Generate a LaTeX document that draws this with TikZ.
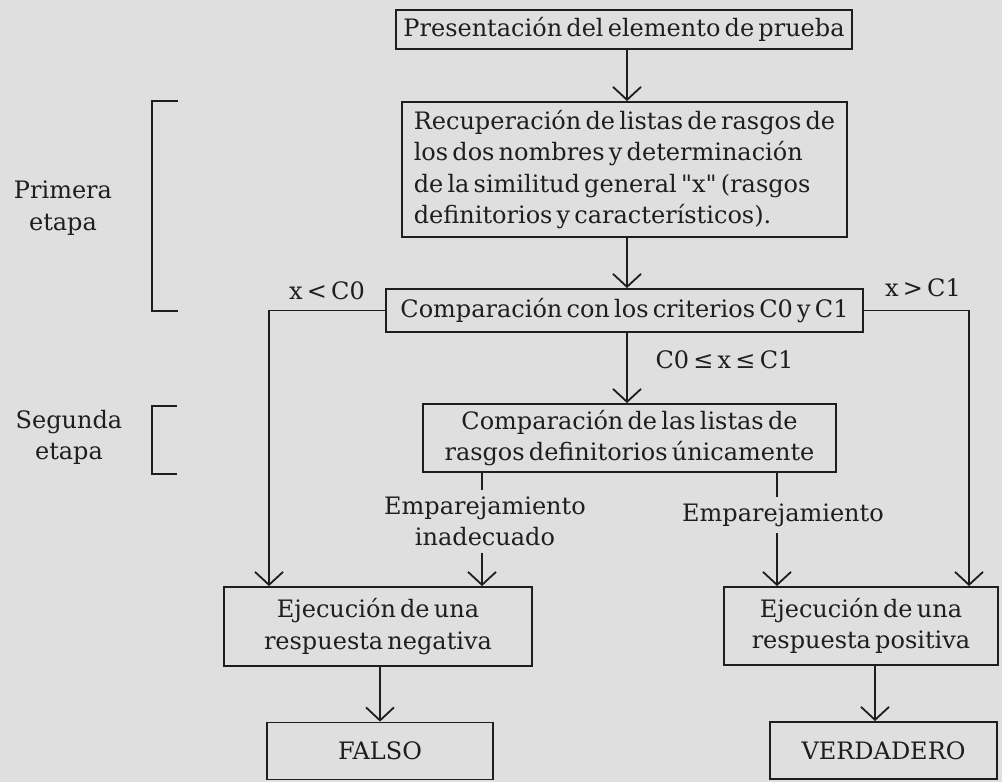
\documentclass[tikz,border=0pt]{standalone}
\usepackage{fontspec}
\setmainfont{DejaVu Serif}[WordSpace=0.55]
\usetikzlibrary{arrows.meta}
\definecolor{paper}{RGB}{223,223,223}
\definecolor{ink}{RGB}{30,30,30}
\begin{document}
\begin{tikzpicture}[x=1pt,y=-1pt,
  font=\fontsize{24}{31.5}\selectfont,
  box/.style={draw=ink, line width=1.8pt, inner sep=0pt, text=ink},
  lbl/.style={inner sep=0pt, text=ink},
  ln/.style={draw=ink, line width=1.8pt},
  arr/.style={ln, -{Straight Barb[length=13pt,width=28pt]}},
]
% page
\fill[paper] (0,0) rectangle (1002,782);
\useasboundingbox (0,0) rectangle (1002,782);

% process boxes
\node[box, minimum width=456pt, minimum height=39pt] (p1) at (624,29.5)
  {Presentación del elemento de prueba};
\node[box, minimum width=445pt, minimum height=135pt, align=left] (p2) at (624.5,169.5)
  {Recuperación de listas de rasgos de\\
   los dos nombres y determinación\\
   de la similitud general \textquotedbl x\textquotedbl{} (rasgos\\
   definitorios y característicos).};
\node[box, minimum width=477pt, minimum height=43pt] (p3) at (624.5,310.5)
  {Comparación con los criterios C0 y C1};
\node[box, minimum width=413pt, minimum height=68pt, align=center] (p4) at (629.5,438)
  {Comparación de las listas de\\ rasgos definitorios únicamente};
\node[box, minimum width=308pt, minimum height=79pt, align=center] (neg) at (378,626.5)
  {Ejecución de una\\ respuesta negativa};
\node[box, minimum width=274pt, minimum height=78pt, align=center] (pos) at (861,626)
  {Ejecución de una\\ respuesta positiva};
\node[box, minimum width=226pt, minimum height=57pt] (falso) at (380,751)
  {FALSO};
\node[box, minimum width=227pt, minimum height=57pt] (verd) at (883.5,750.5)
  {VERDADERO};

% branch labels
\node[lbl] (lt) at (327,291) {x < C0};
\node[lbl] (gt) at (923,288) {x > C1};
\node[lbl] (mid) at (724.5,360) {C0 ≤ x ≤ C1};
\node[lbl, minimum height=63pt, align=center] (noMatch) at (485,521.5)
  {Emparejamiento\\ inadecuado};
\node[lbl, minimum height=36pt] (match) at (783,515) {Emparejamiento};

% stage labels and brackets
\node[lbl, align=center] (st1) at (63,208) {Primera\\ etapa};
\node[lbl, align=center] (st2) at (69,437.5) {Segunda\\ etapa};
\draw[ln] (178,101) -- (152,101) -- (152,311) -- (178,311);
\draw[ln] (177,406) -- (152,406) -- (152,474) -- (177,474);

% guide lines for vertical connectors
\coordinate (xL) at (269,0);
\coordinate (xR) at (969,0);
\coordinate (xA) at (482,0);
\coordinate (xB) at (777,0);
\coordinate (xM) at (627,0);
\coordinate (xV) at (875,0);

% connectors
\draw[arr] (p1.south -| xM) -- (p2.north -| xM);
\draw[arr] (p2.south -| xM) -- (p3.north -| xM);
\draw[arr] (p3.south -| xM) -- (p4.north -| xM);
\draw[arr] (p3.west) -| (neg.north -| xL);
\draw[arr] (p3.east) -| (pos.north -| xR);
\draw[ln]  (p4.south -| xA) -- (noMatch.north -| xA);
\draw[arr] (noMatch.south -| xA) -- (neg.north -| xA);
\draw[ln]  (p4.south -| xB) -- (match.north -| xB);
\draw[arr] (match.south -| xB) -- (pos.north -| xB);
\draw[arr] (neg.south -| falso.north) -- (falso.north);
\draw[arr] (pos.south -| xV) -- (verd.north -| xV);
\end{tikzpicture}
\end{document}
